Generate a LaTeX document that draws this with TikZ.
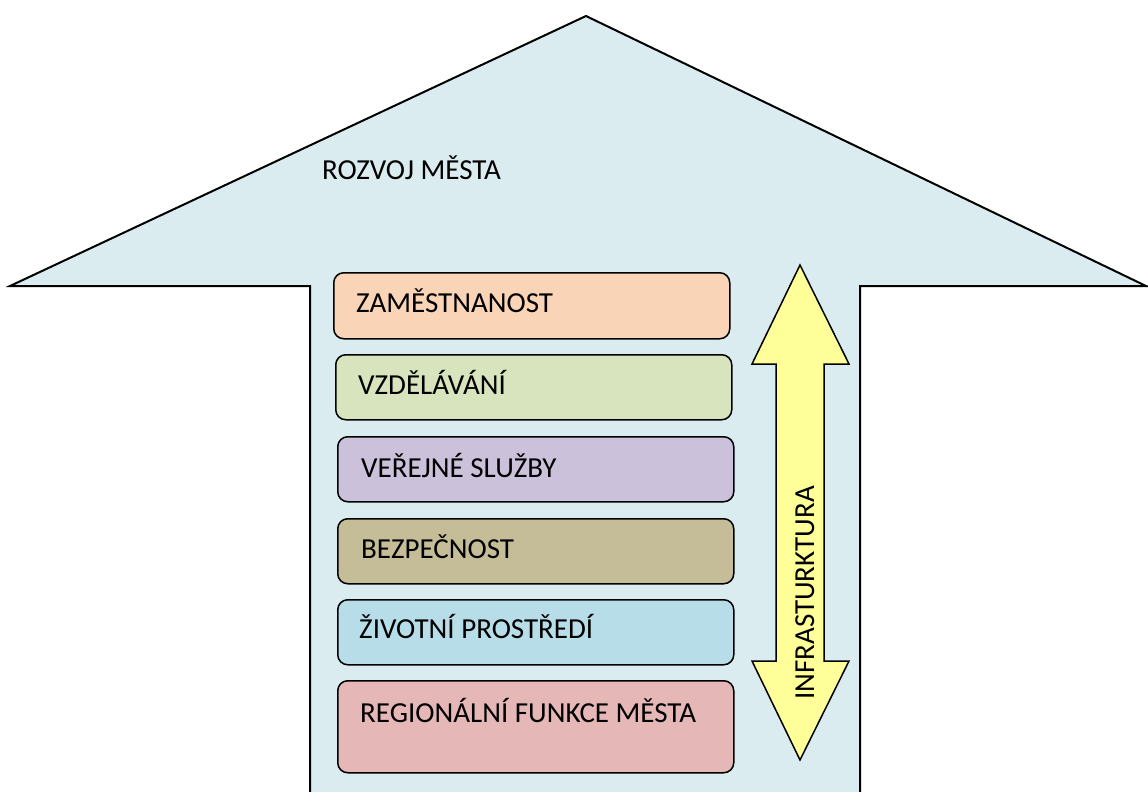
\documentclass[tikz,border=0pt]{standalone}
\usepackage{fontspec}
\setmainfont{Carlito}
\definecolor{housefill}{RGB}{218,236,240}
\definecolor{cZam}{RGB}{250,212,182}
\definecolor{cVzd}{RGB}{215,228,190}
\definecolor{cVer}{RGB}{204,193,218}
\definecolor{cBez}{RGB}{196,189,151}
\definecolor{cZiv}{RGB}{183,221,232}
\definecolor{cReg}{RGB}{229,184,183}
\definecolor{arrowyellow}{RGB}{255,255,153}
\tikzset{
  house/.style={draw=black, line width=2pt, line join=miter},
  topic/.style={draw=black, line width=1.5pt, rounded corners=10pt, anchor=north west, inner sep=0pt},
  topictext/.style={anchor=base west, font=\fontsize{29}{34}\selectfont, inner sep=0pt},
  dblarrow/.style={draw=black, fill=arrowyellow, line width=1.5pt, line join=miter},
}
\begin{document}
\begin{tikzpicture}[x=1pt,y=-1pt]
\useasboundingbox (0,0) rectangle (1148,792);
% big house arrow
\fill[housefill] (310,795) -- (310,286) -- (10,286) -- (586,16) -- (1146,286) -- (860,286) -- (860,795) -- cycle;
\draw[house] (310,795) -- (310,286) -- (10,286) -- (586,16) -- (1146,286) -- (860,286) -- (860,795);
\node[topictext] (title) at (322,179) {ROZVOJ MĚSTA};
% topic boxes
\node[topic, fill=cZam, minimum width=396pt, minimum height=66pt] (b1) at (333,272) {};
\node[topic, fill=cVzd, minimum width=396pt, minimum height=65pt] (b2) at (335,354) {};
\node[topic, fill=cVer, minimum width=396pt, minimum height=65pt] (b3) at (337,436) {};
\node[topic, fill=cBez, minimum width=396pt, minimum height=65pt] (b4) at (337,518) {};
\node[topic, fill=cZiv, minimum width=396pt, minimum height=65pt] (b5) at (337,599) {};
\node[topic, fill=cReg, minimum width=396pt, minimum height=92pt] (b6) at (337,680) {};
\node[topictext] (t1) at (356,312) {ZAMĚSTNANOST};
\node[topictext] (t2) at (358,394) {VZDĚLÁVÁNÍ};
\node[topictext] (t3) at (361,477) {VEŘEJNÉ SLUŽBY};
\node[topictext] (t4) at (361,558) {BEZPEČNOST};
\node[topictext] (t5) at (359,638) {ŽIVOTNÍ PROSTŘEDÍ};
\node[topictext] (t6) at (360,722) {REGIONÁLNÍ FUNKCE MĚSTA};
% double arrow
\draw[dblarrow] (800,265) -- (849,364) -- (824,364) -- (824,661) -- (849,661) -- (800,760) -- (752,661) -- (776,661) -- (776,364) -- (752,364) -- cycle;
\node[topictext, rotate=90] (infra) at (814,700) {INFRASTURKTURA};
\end{tikzpicture}
\end{document}
